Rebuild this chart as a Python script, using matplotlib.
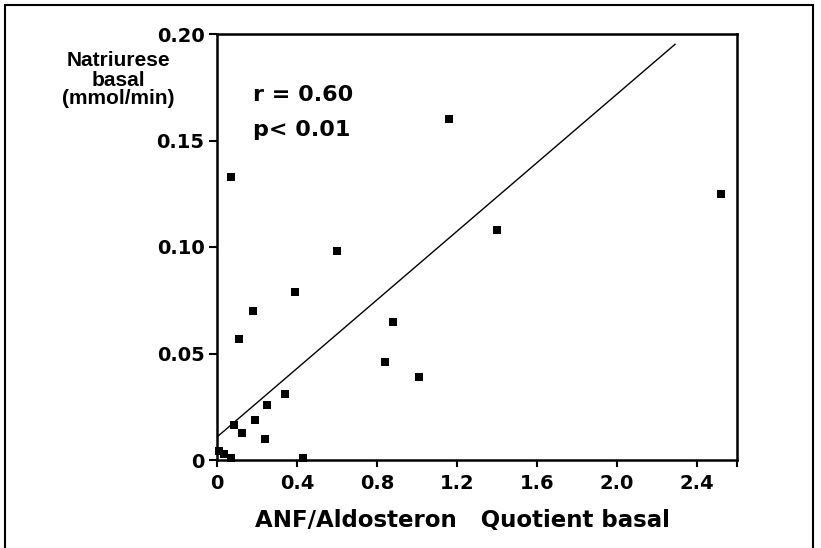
import matplotlib
matplotlib.use("Agg")
import matplotlib.pyplot as plt
from matplotlib.patches import Rectangle
import numpy as np

# Data
quotient = [0.07, 1.16, 2.52, 1.40, 0.60, 0.39, 0.18, 0.11, 0.88, 0.84, 1.01,
            0.34, 0.25, 0.19, 0.085, 0.127, 0.24, 0.43, 0.01, 0.035, 0.07]
natriurese = [0.133, 0.160, 0.125, 0.108, 0.098, 0.079, 0.070, 0.057, 0.065, 0.046, 0.039,
              0.031, 0.026, 0.019, 0.0165, 0.0127, 0.010, 0.001, 0.004, 0.0026, 0.001]
fit_intercept = 0.0108
fit_slope = 0.0805
fit_x_range = [0.0, 2.29]

x_ticks = [0, 0.4, 0.8, 1.2, 1.6, 2.0, 2.4, 2.6]
x_tick_labels = ["0", "0.4", "0.8", "1.2", "1.6", "2.0", "2.4", ""]
y_ticks = [0, 0.05, 0.10, 0.15, 0.20]
y_tick_labels = ["0", "0.05", "0.10", "0.15", "0.20"]

W, H = 821, 548
fig = plt.figure(figsize=(W / 100, H / 100), dpi=100)
fig.patch.set_facecolor("white")

left, right, top, bottom = 217, 737, 34, 460
ax = fig.add_axes([left / W, 1 - bottom / H, (right - left) / W, (bottom - top) / H])

ax.scatter(quotient, natriurese, marker="s", s=26, color="black", zorder=3,
           clip_on=False, linewidths=0)
fx = np.array(fit_x_range)
ax.plot(fx, fit_intercept + fit_slope * fx, color="black", lw=1.0)

ax.set_xlim(0, 2.6)
ax.set_ylim(0, 0.20)
for s in ax.spines.values():
    s.set_linewidth(1.8)
    s.set_color("black")

font = {"family": "DejaVu Sans", "weight": "bold"}
ax.set_xticks(x_ticks)
ax.set_xticklabels(x_tick_labels, fontsize=14, **font)
ax.set_yticks(y_ticks)
ax.set_yticklabels(y_tick_labels, fontsize=14, **font)
ax.tick_params(axis="x", direction="out", length=5, width=1.5, pad=5)
ax.tick_params(axis="y", direction="out", length=6, width=1.5, pad=3)

ax.text(36 / 520, 1 - 61 / 426, "r = 0.60", transform=ax.transAxes, fontsize=16,
        va="center", ha="left", **font)
ax.text(36 / 520, 1 - 96 / 426, "p< 0.01", transform=ax.transAxes, fontsize=16,
        va="center", ha="left", **font)

fig.text(118 / W, 1 - 80 / H, "Natriurese\nbasal\n(mmol/min)", ha="center", va="center",
         fontsize=15, family="Liberation Sans", weight="bold", linespacing=1.0)
fig.text(462 / W, 1 - 521 / H, "ANF/Aldosteron   Quotient basal", ha="center", va="center",
         fontsize=16.5, **font)

fig.patches.append(Rectangle((5 / W, -0.01), (813 - 5) / W, 1 - 5 / H + 0.01,
                             transform=fig.transFigure, fill=False, lw=1.5,
                             edgecolor="black"))

fig.savefig("out.png", dpi=100)
